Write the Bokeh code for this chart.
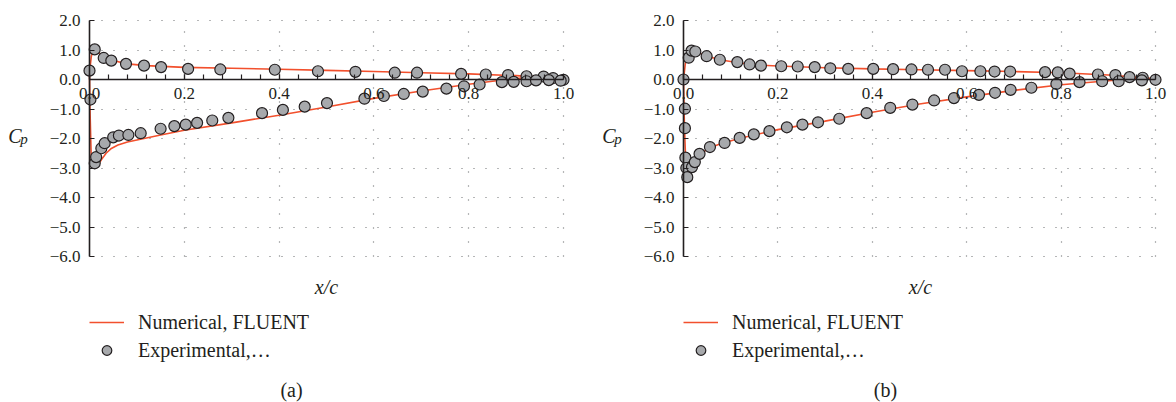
import numpy as np
from bokeh.plotting import figure
from bokeh.layouts import row
from bokeh.models import Range1d, FixedTicker, Label, Legend, LegendItem
from bokeh.embed import file_html
from bokeh.resources import INLINE

# ---------------- data ----------------
x_ticks = [0, 0.2, 0.4, 0.6, 0.8, 1]
x_tick_labels = ["0.0", "0.2", "0.4", "0.6", "0.8", "1.0"]
x_minor_ticks = [0, 0.04, 0.08, 0.12, 0.16, 0.2, 0.24, 0.28, 0.32, 0.36, 0.4, 0.44, 0.48,
                 0.52, 0.56, 0.6, 0.64, 0.68, 0.72, 0.76, 0.8, 0.84, 0.88, 0.92, 0.96, 1]
y_ticks = [-6, -5, -4, -3, -2, -1, 0, 1, 2]
y_tick_labels = ["−6.0", "−5.0", "−4.0", "−3.0", "−2.0", "−1.0", "0.0", "1.0", "2.0"]

# panel (a)
a_num_upper_x = [0.0, 0.004, 0.009, 0.02, 0.03, 0.045, 0.08, 0.12, 0.2, 0.3, 0.4, 0.5, 0.6, 0.7, 0.8, 0.9, 0.95, 1.0]
a_num_upper_cp = [0.25, 0.8, 1.03, 0.9, 0.78, 0.66, 0.53, 0.47, 0.41, 0.38, 0.35, 0.31, 0.27, 0.23, 0.19, 0.13, 0.08, 0.0]
a_num_lower_x = [0.0, 0.001, 0.004, 0.01, 0.018, 0.026, 0.035, 0.045, 0.06, 0.08, 0.1, 0.15, 0.2, 0.3, 0.4,
                 0.5, 0.6, 0.7, 0.8, 0.85, 0.9, 0.95, 1.0]
a_num_lower_cp = [0.25, -1.0, -2.85, -3.0, -2.9, -2.7, -2.5, -2.35, -2.22, -2.12, -2.05, -1.88, -1.72, -1.47, -1.21,
                  -0.93, -0.64, -0.39, -0.16, -0.06, 0.03, 0.1, 0.05]
a_exp_upper_x = [0.0, 0.011, 0.030, 0.046, 0.077, 0.115, 0.151, 0.208, 0.276, 0.391, 0.482, 0.561, 0.644, 0.691,
                 0.784, 0.836, 0.883, 0.922, 0.958, 0.978, 1.0]
a_exp_upper_cp = [0.30, 1.02, 0.73, 0.64, 0.53, 0.47, 0.42, 0.36, 0.34, 0.33, 0.28, 0.26, 0.23, 0.23,
                  0.19, 0.17, 0.15, 0.11, 0.10, 0.05, -0.01]
a_exp_lower_x = [0.002, 0.011, 0.014, 0.025, 0.032, 0.050, 0.062, 0.082, 0.108, 0.150, 0.179, 0.203, 0.227, 0.259,
                 0.293, 0.364, 0.408, 0.454, 0.501, 0.580, 0.621, 0.663, 0.703, 0.753, 0.790, 0.823, 0.870,
                 0.895, 0.922, 0.942, 0.969, 0.994]
a_exp_lower_cp = [-0.68, -2.84, -2.63, -2.33, -2.16, -1.96, -1.90, -1.88, -1.82, -1.67, -1.58, -1.53, -1.47, -1.39,
                  -1.30, -1.14, -1.03, -0.92, -0.80, -0.65, -0.56, -0.49, -0.41, -0.31, -0.23, -0.17, -0.09,
                  -0.08, -0.06, -0.03, -0.02, -0.04]

# panel (b)
b_num_upper_x = [0.0, 0.004, 0.01, 0.018, 0.03, 0.05, 0.08, 0.12, 0.16, 0.2, 0.3, 0.4, 0.5, 0.6, 0.7, 0.8, 0.9, 0.95, 1.0]
b_num_upper_cp = [0.0, 0.55, 0.85, 0.98, 0.92, 0.79, 0.66, 0.56, 0.49, 0.46, 0.40, 0.36, 0.33, 0.30, 0.27, 0.23, 0.15, 0.09, 0.02]
b_num_lower_x = [0.0, 0.002, 0.005, 0.008, 0.012, 0.02, 0.03, 0.05, 0.08, 0.12, 0.2, 0.3, 0.4, 0.5, 0.6, 0.7,
                 0.8, 0.9, 0.95, 1.0]
b_num_lower_cp = [0.0, -1.6, -2.9, -3.35, -3.2, -2.95, -2.65, -2.35, -2.17, -1.99, -1.70, -1.41, -1.11, -0.83,
                  -0.59, -0.37, -0.18, -0.04, 0.02, 0.02]
b_exp_upper_x = [0.0, 0.011, 0.017, 0.025, 0.049, 0.077, 0.114, 0.140, 0.164, 0.207, 0.242, 0.278, 0.311, 0.349,
                 0.402, 0.444, 0.483, 0.518, 0.554, 0.590, 0.629, 0.659, 0.692, 0.766, 0.793, 0.818, 0.878,
                 0.915, 0.945, 0.973, 1.0]
b_exp_upper_cp = [0.0, 0.74, 0.98, 0.95, 0.79, 0.67, 0.59, 0.51, 0.47, 0.45, 0.44, 0.42, 0.38, 0.36,
                  0.36, 0.35, 0.34, 0.33, 0.33, 0.28, 0.28, 0.27, 0.27, 0.25, 0.24, 0.20, 0.17,
                  0.15, 0.08, 0.06, -0.01]
b_exp_lower_x = [0.003, 0.003, 0.004, 0.006, 0.008, 0.018, 0.024, 0.034, 0.056, 0.087, 0.119, 0.149, 0.182,
                 0.219, 0.252, 0.285, 0.330, 0.388, 0.438, 0.485, 0.531, 0.573, 0.626, 0.660, 0.693, 0.737,
                 0.790, 0.839, 0.887, 0.922, 0.971]
b_exp_lower_cp = [-0.99, -1.65, -2.65, -3.00, -3.31, -2.97, -2.80, -2.52, -2.29, -2.15, -1.98, -1.86, -1.75,
                  -1.62, -1.53, -1.45, -1.33, -1.14, -0.96, -0.85, -0.71, -0.63, -0.52, -0.45, -0.35, -0.28,
                  -0.15, -0.09, -0.06, -0.06, -0.03]

num_label = "Numerical, FLUENT"
exp_label = "Experimental,…"
x_label = "x/c"
captions = ["(a)", "(b)"]

# ---------------- style ----------------
FONT = "Liberation Serif"
INK = "#231f20"
RED = "#f2502d"
GREY = "#a7a9ac"
W, H = 588, 402
Y_TOP_PX, Y_ZERO_PX, Y_BOT_PX = 20, 79, 256   # pixel rows of y = 2, 0, -6


def make_panel(axis_px, one_px, num_ux, num_ucp, num_lx, num_lcp, exp_ux, exp_ucp, exp_lx, exp_lcp, caption):
    sx = float(one_px - axis_px)
    sy = (Y_BOT_PX - Y_TOP_PX) / 8.0

    def px2x(px):
        return (px - axis_px) / sx

    def py2y(py):
        return (Y_ZERO_PX - py) / sy

    # the frame fills the whole figure; fixed-location axes take no side space
    p = figure(width=W, height=H, output_backend="svg", toolbar_location=None,
               x_range=Range1d(px2x(0), px2x(W)),
               y_range=Range1d(py2y(H), py2y(0)),
               min_border=0, min_border_left=0, min_border_right=0,
               min_border_top=0, min_border_bottom=0)
    p.outline_line_color = None
    p.background_fill_color = "white"
    p.border_fill_color = "white"

    xa = p.xaxis[0]
    xa.fixed_location = 0
    xa.bounds = (0, 1)
    xa.ticker = FixedTicker(ticks=x_ticks, minor_ticks=x_minor_ticks)
    xa.major_label_overrides = dict(zip(x_ticks, x_tick_labels))
    xa.major_tick_in = 5
    xa.major_tick_out = 0
    xa.minor_tick_in = 5
    xa.minor_tick_out = 0
    xa.major_label_standoff = 8
    ya = p.yaxis[0]
    ya.fixed_location = 0
    ya.bounds = (-6, 2)
    ya.ticker = FixedTicker(ticks=y_ticks)
    ya.major_label_overrides = dict(zip(y_ticks, y_tick_labels))
    ya.major_tick_in = 5
    ya.major_tick_out = 0
    ya.minor_tick_in = 0
    ya.minor_tick_out = 0
    ya.major_label_standoff = 9
    for ax in (xa, ya):
        ax.axis_line_color = INK
        ax.axis_line_width = 1.6
        ax.major_tick_line_color = INK
        ax.minor_tick_line_color = INK
        ax.major_tick_line_width = 1.2
        ax.minor_tick_line_width = 1.2
        ax.major_label_text_font = FONT
        ax.major_label_text_font_size = "17px"
        ax.major_label_text_color = INK

    p.xgrid.ticker = FixedTicker(ticks=x_ticks[1:])
    p.ygrid.ticker = FixedTicker(ticks=y_ticks)
    p.xgrid.grid_line_dash = "1 13"
    p.ygrid.grid_line_dash = "1 11"
    for g in (p.xgrid, p.ygrid):
        g.grid_line_color = "#6d6e71"
        g.grid_line_width = 1.2
    p.xgrid.cross_bounds = (-6, 2)
    p.ygrid.cross_bounds = (0, 1)

    line_x = list(num_ux[::-1]) + list(num_lx)
    line_y = list(num_ucp[::-1]) + list(num_lcp)
    ln = p.line(line_x, line_y, line_color=RED, line_width=1.6)
    sc = p.scatter(list(exp_ux) + list(exp_lx), list(exp_ucp) + list(exp_lcp), size=11,
                   fill_color=GREY, line_color=INK, line_width=1.2)

    p.add_layout(Label(x=px2x(axis_px - 74.5), y=py2y(135), text="C", text_font=FONT,
                       text_font_style="italic", text_font_size="20px", text_color=INK,
                       text_align="center", text_baseline="alphabetic"))
    p.add_layout(Label(x=px2x(axis_px - 65.5), y=py2y(138), text="p", text_font=FONT,
                       text_font_style="italic", text_font_size="15px", text_color=INK,
                       text_align="center", text_baseline="alphabetic"))
    p.add_layout(Label(x=px2x(axis_px + 237), y=py2y(286), text=x_label, text_font=FONT,
                       text_font_style="italic", text_font_size="20px", text_color=INK,
                       text_align="center", text_baseline="alphabetic"))
    p.add_layout(Label(x=px2x(axis_px + 202), y=py2y(389), text=caption, text_font=FONT,
                       text_font_size="20px", text_color=INK,
                       text_align="center", text_baseline="middle"))

    item_h = 24
    spacing = 4
    leg_h = 2 * item_h + spacing
    leg_top = 322 - item_h // 2
    legend = Legend(items=[LegendItem(label=num_label, renderers=[ln]),
                           LegendItem(label=exp_label, renderers=[sc])],
                    location=(int(axis_px), int(H - leg_top - leg_h)),
                    orientation="vertical", glyph_width=35, glyph_height=item_h,
                    label_height=item_h, label_standoff=14, spacing=spacing,
                    padding=0, margin=0, border_line_color=None,
                    background_fill_alpha=0,
                    label_text_font=FONT, label_text_font_size="20px",
                    label_text_color=INK)
    p.add_layout(legend)
    return p


pa = make_panel(89, 563, a_num_upper_x, a_num_upper_cp, a_num_lower_x, a_num_lower_cp,
                a_exp_upper_x, a_exp_upper_cp, a_exp_lower_x, a_exp_lower_cp, captions[0])
pb = make_panel(683 - W, 1155 - W, b_num_upper_x, b_num_upper_cp, b_num_lower_x, b_num_lower_cp,
                b_exp_upper_x, b_exp_upper_cp, b_exp_lower_x, b_exp_lower_cp, captions[1])

layout = row(pa, pb)
open("out.html", "w").write(file_html(layout, INLINE))
